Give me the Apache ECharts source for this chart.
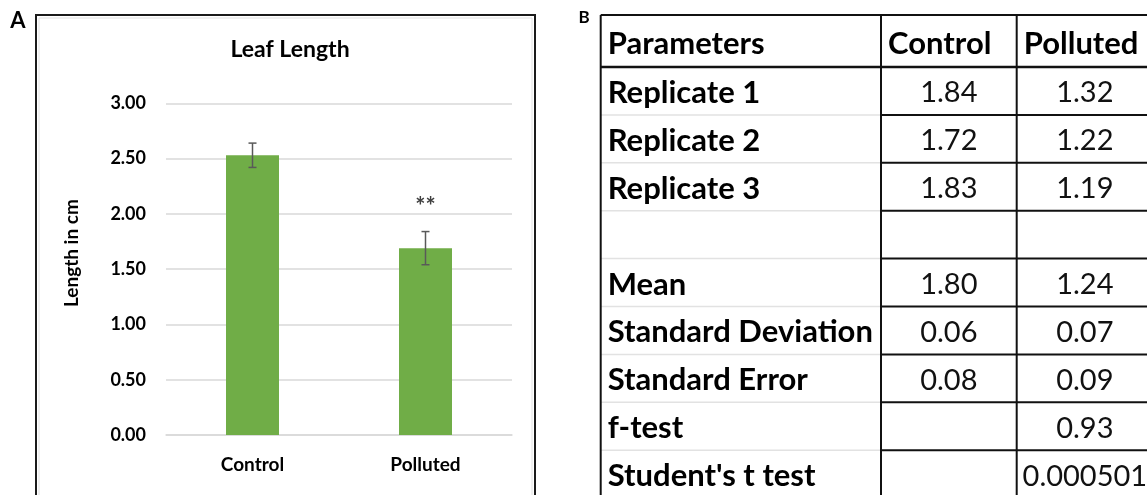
<!DOCTYPE html>
<html>
<head>
<meta charset="utf-8">
<script src="https://cdn.jsdelivr.net/npm/echarts@6/dist/echarts.min.js"></script>
<style>
  html, body { margin: 0; padding: 0; background: #fff; }
  #chart { width: 1147px; height: 495px; }
</style>
</head>
<body>
<div id="chart"></div>
<script>
// panel A: bar chart
const categories = ['Control', 'Polluted']
const leafLength = [2.53, 1.69]
const leafError = [0.11, 0.15]
const sigMarks = ['', '**']
const yTicks = [0, 0.5, 1, 1.5, 2, 2.5, 3]

// panel B: table
const tableHeader = ['Parameters', 'Control', 'Polluted']
const rowLabels = ['Replicate 1', 'Replicate 2', 'Replicate 3', '', 'Mean', 'Standard Deviation', 'Standard Error', 'f-test', "Student's t test"]
const controlCol = ['1.84', '1.72', '1.83', '', '1.80', '0.06', '0.08', '', '']
const pollutedCol = ['1.32', '1.22', '1.19', '', '1.24', '0.07', '0.09', '0.93', '0.000501']

const font = 'Lato'
const green = '#70ad47'
const errColor = '#595959'

// table layout
const colX = [600.7, 881, 1016.7, 1153]
const headTop = 15
const headBottom = 67
const rowH = 47.9

function txt (text, size, weight, fill, align) {
  return {
    text: text,
    fontFamily: font,
    fontSize: size,
    fontWeight: weight,
    fill: fill,
    align: align,
    verticalAlign: 'middle'
  }
}

function tableGraphics () {
  let els = []
  let nRows = rowLabels.length
  let bottom = 500
  // top border and header line
  els.push({ type: 'line', shape: { x1: colX[0], y1: headTop, x2: colX[3], y2: headTop }, style: { stroke: '#111', lineWidth: 2 } })
  els.push({ type: 'line', shape: { x1: colX[0], y1: headBottom, x2: colX[3], y2: headBottom }, style: { stroke: '#111', lineWidth: 2.5 } })
  // row separators
  for (let r = 1; r < nRows; r++) {
    let y = headBottom + r * rowH
    els.push({ type: 'line', shape: { x1: colX[0], y1: y, x2: colX[1], y2: y }, style: { stroke: '#e2e2e2', lineWidth: 1.5 } })
    els.push({ type: 'line', shape: { x1: colX[1], y1: y, x2: colX[3], y2: y }, style: { stroke: '#111', lineWidth: 2 } })
  }
  // vertical lines
  for (let c = 0; c < 3; c++) {
    els.push({ type: 'line', shape: { x1: colX[c], y1: headTop, x2: colX[c], y2: bottom }, style: { stroke: '#111', lineWidth: 2 } })
  }
  // header
  tableHeader.forEach((h, c) => {
    els.push({ type: 'text', x: colX[c] + 7, y: (headTop + headBottom) / 2 + 3, style: txt(h, 31, 'bold', '#000', 'left') })
  })
  // body
  rowLabels.forEach((lab, r) => {
    let cy = headBottom + r * rowH + rowH / 2 + 2
    if (lab) {
      els.push({ type: 'text', x: colX[0] + 7, y: cy, style: txt(lab, 31, 'bold', '#000', 'left') })
    }
    if (controlCol[r]) {
      els.push({ type: 'text', x: (colX[1] + colX[2]) / 2, y: cy, style: txt(controlCol[r], 29, 'normal', '#111', 'center') })
    }
    if (pollutedCol[r]) {
      els.push({ type: 'text', x: (colX[2] + colX[3]) / 2, y: cy, style: txt(pollutedCol[r], 29, 'normal', '#111', 'center') })
    }
  })
  return els
}

let myChart = echarts.init(document.getElementById('chart'))
let opt = {
  backgroundColor: '#fff',
  animation: false,
  title: {
    text: 'Leaf Length',
    left: 285,
    top: 33,
    textAlign: 'center',
    textStyle: { fontFamily: font, fontWeight: 'bold', fontSize: 23, color: '#000' }
  },
  grid: {
    left: 166,
    right: 1147 - 512,
    top: 103.3,
    bottom: 495 - 435
  },
  xAxis: {
    type: 'category',
    data: categories,
    axisTick: { show: false },
    axisLine: { lineStyle: { color: '#d9d9d9', width: 1.5 } },
    axisLabel: { margin: 20, fontFamily: font, fontWeight: 'bold', fontSize: 19, color: '#000' }
  },
  yAxis: {
    type: 'value',
    min: yTicks[0],
    max: yTicks[yTicks.length - 1],
    interval: yTicks[1] - yTicks[0],
    name: 'Length in cm',
    nameLocation: 'middle',
    nameRotate: 90,
    nameGap: 85,
    nameTextStyle: { fontFamily: font, fontWeight: 'bold', fontSize: 19, color: '#000', padding: [0, 0, 0, 32] },
    axisLine: { show: false },
    axisTick: { show: false },
    splitLine: { lineStyle: { color: '#d9d9d9', width: 1.5 } },
    axisLabel: {
      margin: 20,
      fontFamily: font,
      fontWeight: 'bold',
      fontSize: 18,
      color: '#000',
      formatter: v => v.toFixed(2)
    }
  },
  series: [
    {
      type: 'bar',
      data: leafLength,
      barWidth: 53,
      itemStyle: { color: green }
    },
    {
      type: 'custom',
      z: 5,
      encode: { x: 0, y: 1 },
      data: categories.map((c, i) => [i, leafLength[i], leafError[i]]),
      renderItem (params, api) {
        let i = api.value(0)
        let mean = api.value(1)
        let err = api.value(2)
        let top = api.coord([i, mean + err])
        let bot = api.coord([i, mean - err])
        let cap = 4
        let st = { stroke: errColor, lineWidth: 1.5 }
        let children = [
          { type: 'line', shape: { x1: top[0], y1: top[1], x2: bot[0], y2: bot[1] }, style: st },
          { type: 'line', shape: { x1: top[0] - cap, y1: top[1], x2: top[0] + cap, y2: top[1] }, style: st },
          { type: 'line', shape: { x1: bot[0] - cap, y1: bot[1], x2: bot[0] + cap, y2: bot[1] }, style: st }
        ]
        if (sigMarks[i]) {
          children.push({ type: 'text', x: top[0], y: top[1] - 24, style: txt(sigMarks[i], 24, 'bold', '#404040', 'center') })
        }
        return { type: 'group', children }
      }
    }
  ],
  graphic: {
    elements: [
      { type: 'rect', silent: true, shape: { x: 36, y: 15, width: 499, height: 500 }, style: { fill: 'none', stroke: '#1a1a1a', lineWidth: 2 } },
      { type: 'rect', silent: true, shape: { x: 39, y: 18, width: 493, height: 500 }, style: { fill: 'none', stroke: '#e0e0e0', lineWidth: 1 } },
      { type: 'text', silent: true, x: 18, y: 21, style: txt('A', 22, 'bold', '#000', 'center') },
      { type: 'text', silent: true, x: 584, y: 18, style: txt('B', 17, 'bold', '#000', 'center') },
      { type: 'group', silent: true, children: tableGraphics() }
    ]
  }
}
myChart.setOption(opt)
window.addEventListener('resize', () => myChart.resize())
</script>
</body>
</html>
